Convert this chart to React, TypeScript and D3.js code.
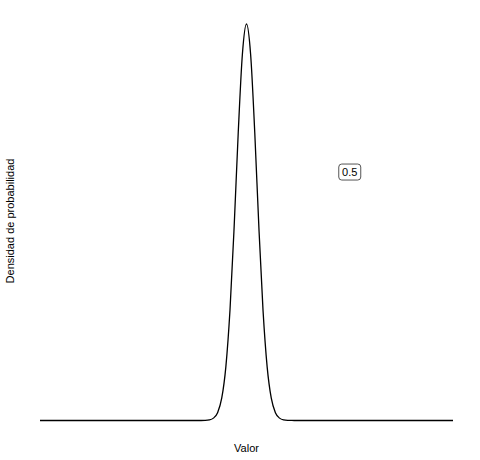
import React from "react";
import * as d3 from "d3";

const xValues = [-10, -2.4, -2.2, -2.0, -1.8, -1.6, -1.4, -1.2, -1.0, -0.8, -0.6, -0.4, -0.2, 0, 0.2, 0.4, 0.6, 0.8, 1.0, 1.2, 1.4, 1.6, 1.8, 2.0, 2.2, 2.4, 10];
const densityValues = [0, 0.000008, 0.00005, 0.00027, 0.00122, 0.00477, 0.0158, 0.0448, 0.108, 0.2218, 0.3884, 0.5794, 0.7365, 0.7979, 0.7365, 0.5794, 0.3884, 0.2218, 0.108, 0.0448, 0.0158, 0.00477, 0.00122, 0.00027, 0.00005, 0.000008, 0];

const labelX = [5];
const labelY = [0.5];
const labelText = ["0.5"];

const xTitle = "Valor";
const yTitle = "Densidad de probabilidad";

export default function App() {
  const width = 480;
  const height = 460;
  const x = d3.scaleLinear().domain([-10, 10]).range([40, 453]);
  const y = d3.scaleLinear().domain([0, 0.7979]).range([420.5, 24]);
  const pts = xValues.map((v, i) => [v, densityValues[i]] as [number, number]);
  const line = d3
    .line<[number, number]>()
    .x((d) => x(d[0]))
    .y((d) => y(d[1]))
    .curve(d3.curveMonotoneX);
  const font = "'Liberation Sans', Arial, sans-serif";
  return (
    <svg
      width={width}
      height={height}
      style={{ position: "absolute", left: 0, top: 0, background: "#fff" }}
    >
      <rect x={0} y={0} width={width} height={height} fill="#fff" />
      <path d={line(pts) || ""} fill="none" stroke="#000" strokeWidth={1.3} strokeLinejoin="round" />
      {labelText.map((t, i) => (
        <g key={i} transform={`translate(${x(labelX[i])},${y(labelY[i])})`}>
          <rect x={-11} y={-8} width={22} height={16} rx={3} ry={3} fill="#fff" stroke="#555" strokeWidth={1} />
          <text x={0} y={4} textAnchor="middle" fontFamily={font} fontSize={11} fill="#000">
            {t}
          </text>
        </g>
      ))}
      <text x={246.5} y={452} textAnchor="middle" fontFamily={font} fontSize={11} fill="#000">
        {xTitle}
      </text>
      <text
        transform={`translate(14,221) rotate(-90)`}
        textAnchor="middle"
        fontFamily={font}
        fontSize={11}
        fill="#000"
      >
        {yTitle}
      </text>
    </svg>
  );
}
